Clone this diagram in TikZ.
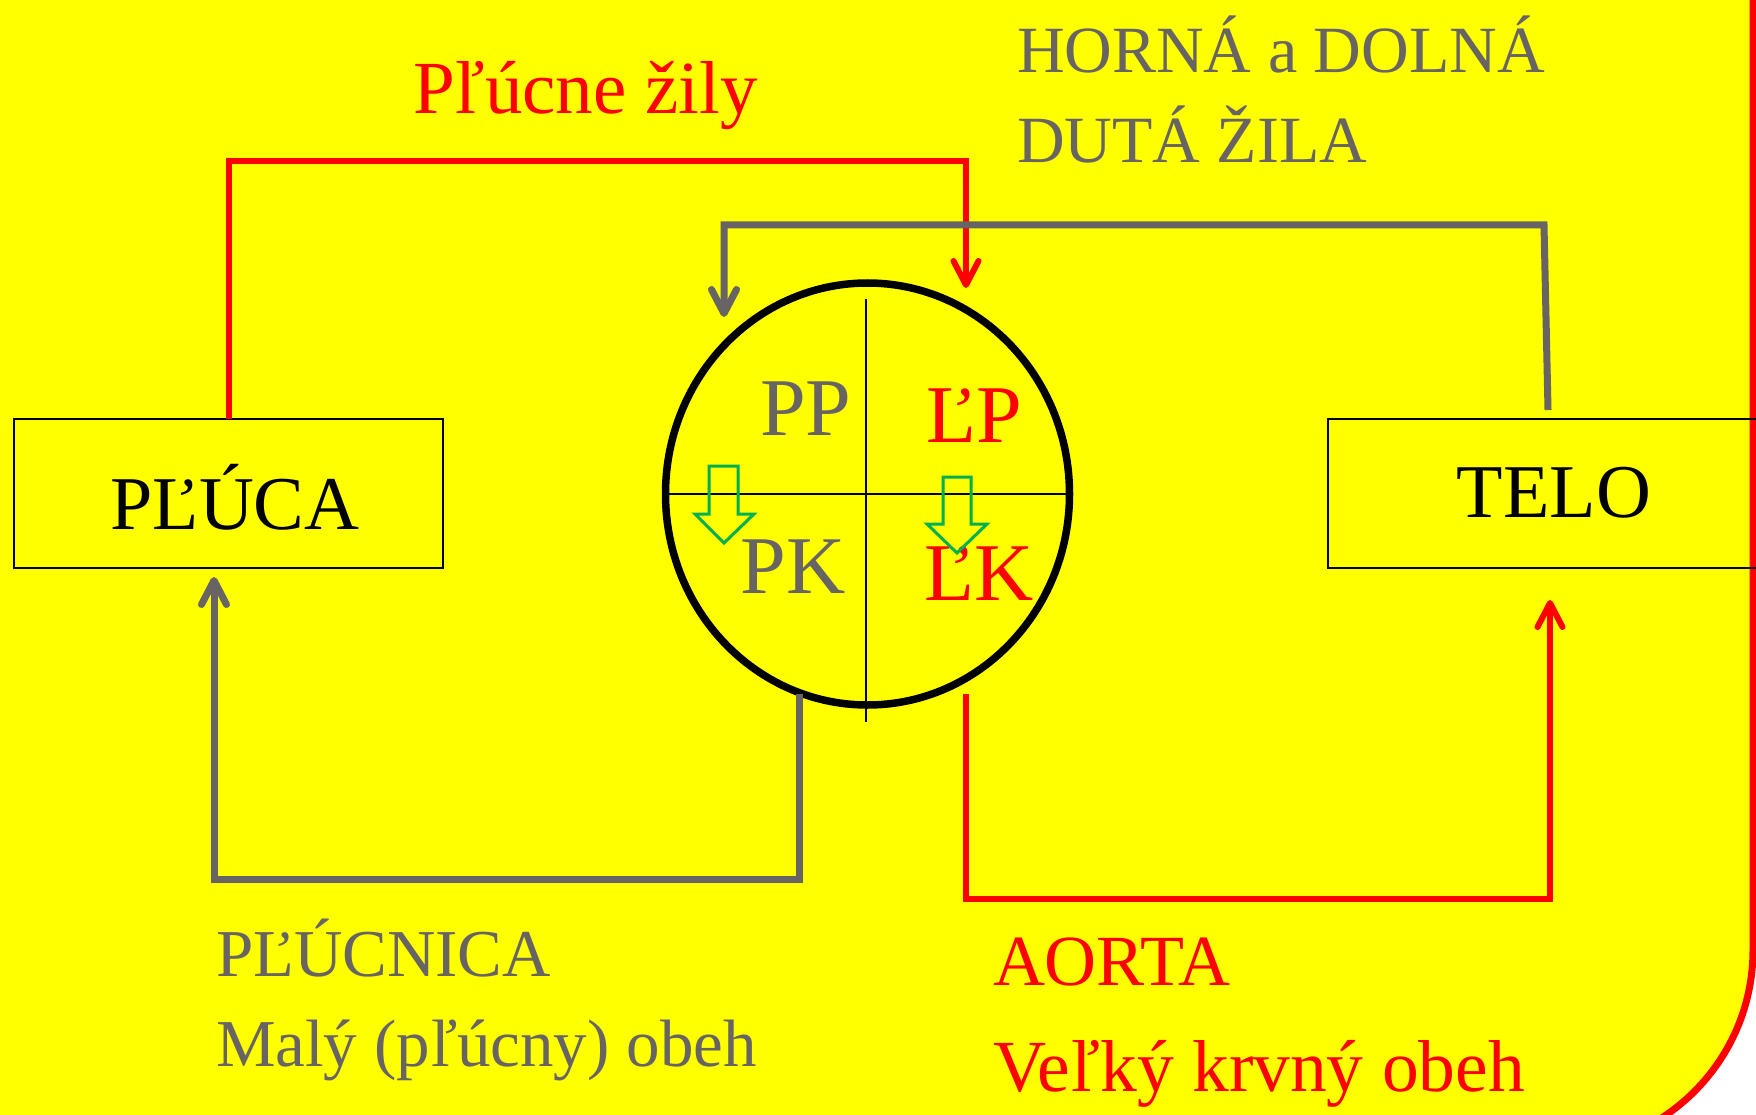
\documentclass[tikz,border=0pt]{standalone}
\usepackage{fontspec}
\setmainfont{Liberation Serif}
\usetikzlibrary{arrows.meta,shapes.geometric}
\definecolor{bgyellow}{RGB}{255,255,0}
\definecolor{hred}{RGB}{255,0,0}
\definecolor{hgray}{RGB}{104,100,100}
\definecolor{hgreen}{RGB}{0,176,80}
\begin{document}
\begin{tikzpicture}[x=1pt,y=-1pt,
  boxnode/.style={draw=black,line width=2.6pt,inner sep=0pt,outer sep=0pt},
  redline/.style={draw=hred,line width=6pt},
  grayline/.style={draw=hgray,line width=7pt},
  tipA/.style={-{Straight Barb[length=24pt,width=25pt,round]}},
  lbl/.style={inner sep=0pt,outer sep=0pt,anchor=base west},
  clbl/.style={inner sep=0pt,outer sep=0pt,anchor=base},
  greenarrow/.style={draw=hgreen,line width=3pt,line join=miter},
  quad/.style={draw=black,line width=2.2pt}]
\useasboundingbox (0,0) rectangle (1756,1115);
\clip (0,0) rectangle (1756,1115);
\fill[white] (0,0) rectangle (1756,1115);
% background slide shape
\fill[bgyellow,rounded corners=200pt] (-300,-300) -- (1753,-300) -- (1753,1150) -- (-300,1150) -- cycle;
\draw[hred,line width=7pt,rounded corners=200pt] (-300,-300) -- (1753,-300) -- (1753,1150) -- (-300,1150) -- cycle;

% boxes
\node[boxnode,minimum width=429pt,minimum height=149pt] (pluca) at (228.5,493.5) {};
\node[clbl,font=\fontsize{76}{90}\selectfont] (plucatext) at (235,529) {PĽÚCA};
\node[boxnode,minimum width=432pt,minimum height=149pt] (telo) at (1544,493.5) {};
\node[clbl,font=\fontsize{76}{90}\selectfont] (telotext) at (1554,517) {TELO};

% heart
\node[ellipse,draw=black,line width=7.5pt,minimum width=404pt,minimum height=422pt,inner sep=0pt] (heart) at (867.5,494) {};
\coordinate (hl) at (667,494);
\coordinate (hr) at (1068,494);
\coordinate (vt) at (866,299);
\coordinate (vb) at (866,722);
\draw[quad] (hl) -- (hr);
\draw[quad] (vt) -- (vb);

\node[clbl,text=hgray,font=\fontsize{82}{96}\selectfont] (pp) at (806,435) {PP};
\node[clbl,text=hred,font=\fontsize{82}{96}\selectfont] (lp) at (974,442) {ĽP};
\node[clbl,text=hgray,font=\fontsize{82}{96}\selectfont] (pk) at (793,593) {PK};
\node[clbl,text=hred,font=\fontsize{82}{96}\selectfont] (lk) at (979,600) {ĽK};

% valves (hollow green arrows)
\draw[greenarrow] (709,466) -- (738,466) -- (738,514) -- (754,514) -- (724,543) -- (695,514) -- (709,514) -- cycle;
\draw[greenarrow] (943,477) -- (971,477) -- (971,524) -- (987,524) -- (957,553) -- (927,524) -- (943,524) -- cycle;

% connector coordinates
\coordinate (lpin) at (966,288);
\coordinate (pvcorner) at (966,161);
\coordinate (vcstart) at (1548,410);
\coordinate (vcbend) at (1544,225);
\coordinate (ppin) at (724,317);
\coordinate (pkout) at (799,694);
\coordinate (pabend) at (799,879);
\coordinate (plin) at (214,577);
\coordinate (lkout) at (966,694);
\coordinate (aobend) at (966,899);
\coordinate (teloin) at (1550,600);

% pulmonary veins (red)
\draw[redline,tipA] (pluca.north) |- (pvcorner) -- (lpin);
% venae cavae (gray)
\draw[grayline,tipA] (vcstart) -- (vcbend) -- (ppin |- vcbend) -- (ppin);
% pulmonary artery (gray)
\draw[grayline,tipA] (pkout) -- (pabend) -| (plin);
% aorta (red)
\draw[redline,tipA] (lkout) -- (aobend) -| (teloin);

% labels
\node[lbl,text=hred,font=\fontsize{75}{88}\selectfont] (pvlabel) at (413,114) {Pľúcne žily};
\node[lbl,text=hgray,font=\fontsize{66}{76}\selectfont] (vclabel1) at (1017,73) {HORNÁ a DOLNÁ};
\node[lbl,text=hgray,font=\fontsize{66}{76}\selectfont] (vclabel2) at (1017,163) {DUTÁ ŽILA};
\node[lbl,text=hgray,font=\fontsize{67}{80}\selectfont] (palabel1) at (216,976) {PĽÚCNICA};
\node[lbl,text=hgray,font=\fontsize{67}{80}\selectfont] (palabel2) at (216,1066) {Malý (pľúcny) obeh};
\node[lbl,text=hred,font=\fontsize{72}{86}\selectfont] (aolabel1) at (993,985) {AORTA};
\node[lbl,text=hred,font=\fontsize{73.5}{86}\selectfont] (aolabel2) at (993,1091) {Veľký krvný obeh};
\end{tikzpicture}
\end{document}
